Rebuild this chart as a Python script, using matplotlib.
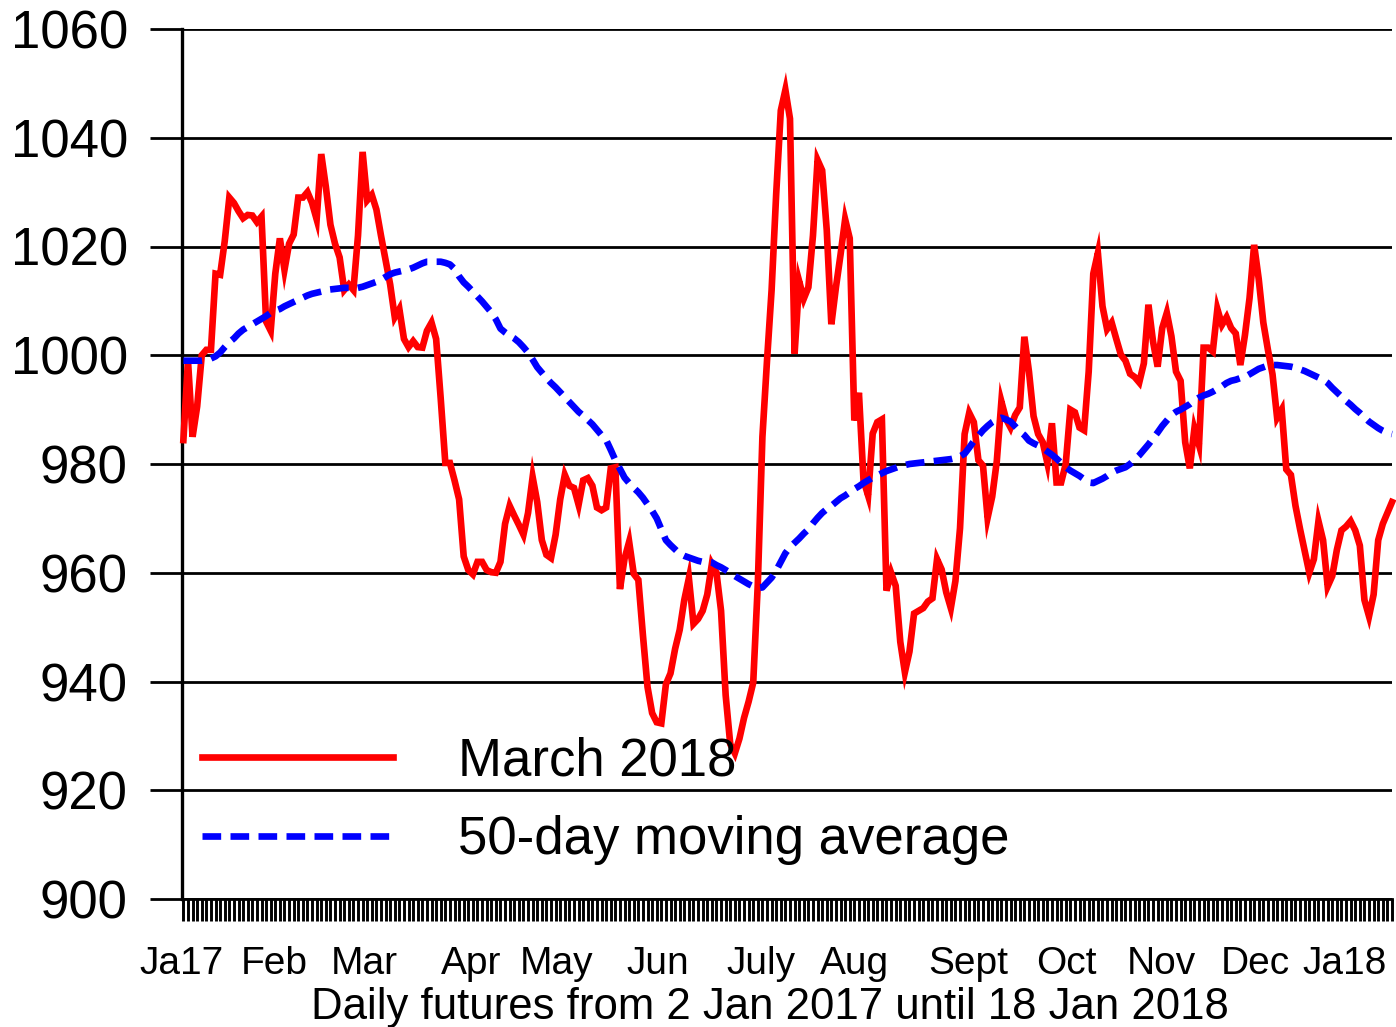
import matplotlib.pyplot as plt

# daily settlement, March 2018 contract (2 Jan 2017 .. 18 Jan 2018)
march2018 = [
    984.4, 999.0, 985.0, 990.6, 1000.0, 1001.0, 1001.0, 1015.0, 1014.8, 1021.0,
    1029.0, 1028.0, 1026.5, 1025.2, 1025.8, 1025.7, 1024.5, 1025.5, 1006.2, 1004.5,
    1015.0, 1021.5, 1015.7, 1020.5, 1022.2, 1029.0, 1029.0, 1030.0, 1028.0, 1025.0,
    1037.0, 1031.0, 1024.0, 1020.5, 1018.0, 1012.0, 1013.0, 1012.0, 1022.0, 1037.4,
    1028.5, 1029.5, 1026.8, 1022.0, 1017.5, 1013.0, 1007.0, 1008.5, 1003.0, 1001.5,
    1002.6, 1001.5, 1001.4, 1004.5, 1006.0, 1003.0, 992.0, 980.2, 980.2, 977.0,
    973.5, 963.0, 960.5, 959.7, 962.0, 962.0, 960.5, 960.1, 960.0, 962.0,
    969.0, 972.3, 970.5, 968.8, 967.0, 971.0, 977.6, 973.0, 966.0, 963.3,
    962.7, 967.0, 973.5, 978.0, 976.0, 975.6, 972.5, 977.0, 977.4, 976.0,
    972.0, 971.5, 972.0, 979.2, 979.4, 957.0, 962.6, 965.7, 959.8, 958.7,
    948.5, 939.0, 934.2, 932.5, 932.3, 939.5, 941.5, 946.0, 949.5, 955.0,
    959.0, 950.6, 951.5, 953.0, 956.0, 961.6, 960.0, 953.0, 937.5, 928.5,
    926.8, 929.5, 933.3, 936.3, 939.8, 958.0, 985.0, 999.0, 1012.0, 1029.7,
    1045.0, 1048.8, 1043.5, 1000.3, 1013.6, 1010.4, 1012.5, 1022.0, 1035.9, 1034.0,
    1023.0, 1005.7, 1012.5, 1018.5, 1025.0, 1021.5, 988.0, 993.1, 977.0, 974.2,
    985.6, 987.7, 988.2, 956.7, 960.0, 957.6, 947.3, 941.7, 945.5, 952.5,
    953.0, 953.5, 954.7, 955.3, 962.5, 960.6, 956.4, 953.5, 958.5, 968.2,
    985.5, 989.4, 987.7, 980.7, 979.7, 970.1, 974.0, 980.5, 991.5, 988.3,
    986.7, 989.0, 990.4, 1003.4, 997.0, 988.8, 985.5, 984.0, 980.2, 987.5,
    976.6, 976.6, 980.0, 990.0, 989.5, 986.7, 986.2, 997.0, 1015.0, 1018.8,
    1009.0, 1004.8, 1006.0, 1003.0, 1000.1, 999.0, 996.6, 996.0, 995.0, 998.5,
    1009.3, 1002.5, 997.9, 1005.0, 1007.8, 1003.5, 997.0, 995.3, 984.0, 979.2,
    986.5, 983.5, 1001.4, 1001.4, 1000.7, 1008.5, 1005.6, 1007.0, 1005.0, 1004.0,
    998.2, 1003.7, 1010.5, 1020.3, 1014.0, 1006.0, 1001.0, 996.5, 988.5, 990.0,
    979.0, 978.0, 972.3, 968.0, 964.0, 960.0, 962.5, 969.5, 966.0, 957.5,
    959.4, 964.2, 967.8, 968.5, 969.5, 967.8, 965.0, 955.0, 952.0, 956.0,
    966.0, 969.0, 971.0, 973.0,
]

moving_avg = [
    999.0, 999.0, 999.0, 999.0, 999.0, 999.1, 999.4, 999.8, 1000.5, 1001.5,
    1002.4, 1003.1, 1004.0, 1004.7, 1005.2, 1005.7, 1006.2, 1006.7, 1007.2, 1007.8,
    1008.2, 1008.5, 1009.0, 1009.4, 1009.8, 1010.2, 1010.6, 1011.0, 1011.3, 1011.5,
    1011.7, 1012.0, 1012.1, 1012.2, 1012.3, 1012.4, 1012.4, 1012.2, 1012.4, 1012.6,
    1012.9, 1013.2, 1013.5, 1013.9, 1014.4, 1014.9, 1015.2, 1015.4, 1015.6, 1015.8,
    1016.1, 1016.5, 1016.9, 1017.2, 1017.2, 1017.2, 1017.2, 1017.0, 1016.7, 1015.9,
    1014.5, 1013.4, 1012.6, 1011.7, 1010.8, 1009.9, 1008.9, 1007.9, 1006.6, 1004.9,
    1004.2, 1003.6, 1003.1, 1002.4, 1001.5, 1000.5, 999.2, 997.8, 996.8, 995.8,
    994.9, 994.1, 993.2, 992.3, 991.4, 990.5, 989.6, 988.9, 988.1, 987.3,
    986.3, 985.3, 984.4, 982.6, 980.7, 979.1, 977.5, 976.5, 975.6, 974.8,
    973.8, 972.6, 971.4, 970.0, 968.0, 966.0, 965.1, 964.3, 963.5, 963.1,
    962.8, 962.5, 962.2, 962.0, 962.0, 961.9, 961.4, 961.0, 960.5, 960.0,
    959.4, 958.9, 958.4, 957.9, 957.5, 957.2, 957.3, 958.2, 959.1, 960.4,
    962.0, 963.6, 964.7, 965.5, 966.3, 967.2, 968.0, 969.1, 970.1, 971.0,
    971.7, 972.3, 973.0, 973.7, 974.2, 974.8, 975.4, 975.9, 976.5, 977.0,
    977.5, 977.9, 978.3, 978.7, 979.0, 979.3, 979.6, 979.8, 980.0, 980.1,
    980.2, 980.3, 980.4, 980.5, 980.6, 980.7, 980.8, 980.9, 981.1, 981.4,
    981.9, 983.0, 984.2, 985.2, 986.2, 987.0, 987.7, 988.2, 988.5, 988.2,
    987.8, 986.9, 986.0, 985.3, 984.3, 983.8, 983.4, 982.9, 982.3, 981.7,
    981.0, 980.2, 979.4, 978.8, 978.3, 977.8, 977.2, 976.6, 976.5, 976.9,
    977.3, 977.8, 978.4, 978.8, 979.1, 979.4, 980.0, 980.8, 981.6, 982.6,
    983.6, 984.7, 985.8, 987.0, 988.0, 989.0, 989.6, 990.0, 990.5, 991.0,
    991.7, 992.2, 992.6, 992.9, 993.3, 993.8, 994.3, 994.9, 995.3, 995.5,
    995.8, 996.0, 996.5, 997.0, 997.5, 997.8, 998.1, 998.2, 998.2, 998.1,
    998.0, 997.9, 997.7, 997.4, 997.1, 996.7, 996.3, 995.9, 995.5, 994.9,
    994.0, 993.2, 992.4, 991.6, 990.9, 990.1, 989.4, 988.6, 987.8, 987.2,
    986.6, 986.1, 985.7, 985.5,
]

month_labels = ['Ja17', 'Feb', 'Mar', 'Apr', 'May', 'Jun', 'July', 'Aug',
                'Sept', 'Oct', 'Nov', 'Dec', 'Ja18']
month_label_days = [-0.3, 19.7, 39.3, 62.7, 81.2, 103.3, 125.7, 146.1,
                    170.8, 192.1, 212.9, 233.3, 252.6]

y_ticks = [900, 920, 940, 960, 980, 1000, 1020, 1040, 1060]

plt.rcParams['font.family'] = ['Liberation Sans', 'DejaVu Sans']

W, H = 1396, 1027
fig = plt.figure(figsize=(W / 100, H / 100), dpi=100)
ax = fig.add_axes([182 / W, 1 - 899 / H, 1210 / W, 870 / H])

days = list(range(len(march2018)))
ax.plot(days, march2018, color='#ff0000', lw=4.8, solid_joinstyle='miter',
        clip_on=False, zorder=3, label='March 2018')
ax.plot(days, moving_avg, color='#0000ff', lw=4.8, dashes=(2.8, 1.4),
        dash_capstyle='butt', clip_on=False, zorder=4,
        label='50-day moving average')

ax.set_ylim(900, 1060)
ax.set_xlim(0.2, len(march2018) - 1.2)

ax.set_yticks(y_ticks)
ax.set_yticklabels([str(v) for v in y_ticks])
ax.yaxis.grid(True, color='black', lw=2.0)
ax.set_axisbelow(True)
ax.tick_params(axis='y', direction='out', length=23, width=2.0,
               labelsize=38, pad=16)

ax.set_xticks(month_label_days)
ax.set_xticklabels(month_labels)
ax.set_xticks(days, minor=True)
ax.tick_params(axis='x', which='major', length=0, labelsize=28, pad=34)
ax.tick_params(axis='x', which='minor', direction='out', length=15.5, width=2.1)

for s in ['top', 'right']:
    ax.spines[s].set_visible(False)
ax.spines['left'].set_linewidth(2.4)
ax.spines['bottom'].set_linewidth(2.0)

fig.text(770 / W, 1 - 1007 / H, 'Daily futures from 2 Jan 2017 until 18 Jan 2018',
         ha='center', va='center', fontsize=31.5)

ax.legend(loc='center left', bbox_to_anchor=(202 / W, 1 - 801 / H),
          bbox_transform=fig.transFigure, frameon=False, fontsize=38,
          handlelength=3.62, handletextpad=1.23, borderpad=0,
          borderaxespad=0, labelspacing=0.54)

fig.savefig('out.png', dpi=100)
